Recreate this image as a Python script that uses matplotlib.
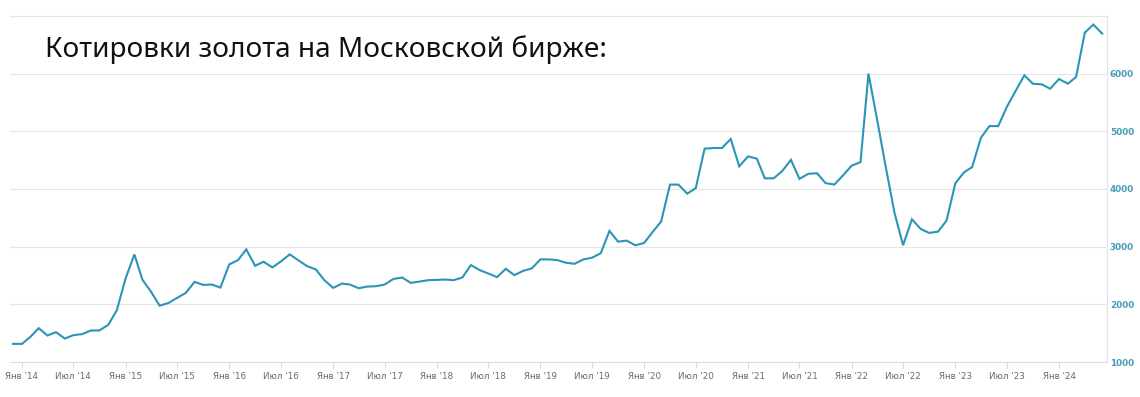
import matplotlib
matplotlib.use("Agg")
import matplotlib.pyplot as plt
import pandas as pd

# ---- data (monthly quotes, Dec 2013 .. Jun 2024) ----
start_month = "2013-12-01"
v2013 = [1314]
v2014 = [1314, 1442, 1587, 1459, 1517, 1407, 1465, 1483, 1547, 1547, 1645, 1895]
v2015 = [2448, 2866, 2430, 2215, 1977, 2023, 2110, 2198, 2390, 2337, 2343, 2291]
v2016 = [2692, 2767, 2953, 2669, 2738, 2640, 2744, 2866, 2762, 2663, 2605, 2419]
v2017 = [2285, 2360, 2343, 2279, 2308, 2314, 2343, 2440, 2465, 2372, 2395, 2419]
v2018 = [2424, 2430, 2419, 2465, 2680, 2593, 2535, 2471, 2616, 2506, 2581, 2622]
v2019 = [2779, 2779, 2767, 2721, 2703, 2779, 2808, 2884, 3273, 3087, 3105, 3023]
v2020 = [3064, 3262, 3436, 4076, 4076, 3919, 4017, 4699, 4711, 4711, 4867, 4393]
v2021 = [4566, 4526, 4185, 4185, 4309, 4506, 4176, 4263, 4274, 4101, 4078, 4234]
v2022 = [4405, 4466, 6000, 5190, 4380, 3580, 3025, 3475, 3307, 3238, 3261, 3452]
v2023 = [4101, 4292, 4379, 4888, 5091, 5091, 5421, 5699, 5971, 5826, 5815, 5739]
v2024 = [5907, 5826, 5942, 6712, 6851, 6695]

tick_dates = ["2014-01-01", "2014-07-01", "2015-01-01", "2015-07-01", "2016-01-01",
              "2016-07-01", "2017-01-01", "2017-07-01", "2018-01-01", "2018-07-01",
              "2019-01-01", "2019-07-01", "2020-01-01", "2020-07-01", "2021-01-01",
              "2021-07-01", "2022-01-01", "2022-07-01", "2023-01-01", "2023-07-01",
              "2024-01-01"]
tick_labels = ["Янв '14", "Июл '14", "Янв '15", "Июл '15", "Янв '16", "Июл '16",
               "Янв '17", "Июл '17", "Янв '18", "Июл '18", "Янв '19", "Июл '19",
               "Янв '20", "Июл '20", "Янв '21", "Июл '21", "Янв '22", "Июл '22",
               "Янв '23", "Июл '23", "Янв '24"]
y_ticks = [1000, 2000, 3000, 4000, 5000, 6000]
title = "Котировки золота на Московской бирже:"

values = v2013 + v2014 + v2015 + v2016 + v2017 + v2018 + v2019 + v2020 + v2021 + v2022 + v2023 + v2024
dates = pd.date_range(start_month, periods=len(values), freq="MS")

W, H = 1140, 397
fig = plt.figure(figsize=(W / 100, H / 100), dpi=100)
fig.patch.set_facecolor("white")

# axes placement in pixels
left_px, right_px, top_px, bottom_px = 10, 1107, 16, 362
ax = fig.add_axes([left_px / W, (H - bottom_px) / H,
                   (right_px - left_px) / W, (bottom_px - top_px) / H])

line_color = "#2b95b8"
ax.plot(dates, values, color=line_color, lw=1.5, solid_joinstyle="miter", zorder=3)

ax.set_ylim(1000, 7000)
ax.set_xlim(pd.Timestamp("2013-11-20"), pd.Timestamp("2024-06-18"))

grid_color = "#e6e6e6"
for yv in y_ticks[1:]:
    ax.axhline(yv, color=grid_color, lw=0.8, zorder=1)

# spines
ax.spines["left"].set_visible(False)
ax.spines["top"].set_color(grid_color)
ax.spines["top"].set_linewidth(0.8)
ax.spines["right"].set_color("#dde4ee")
ax.spines["right"].set_linewidth(0.8)
ax.spines["bottom"].set_color("#d4dce8")
ax.spines["bottom"].set_linewidth(0.8)

ax.set_xticks(pd.to_datetime(tick_dates))
ax.set_xticklabels(tick_labels)
ax.tick_params(axis="x", length=4.5, width=0.8, color="#d4dce8",
               labelsize=6.3, labelcolor="#6a6a6a", pad=2.5)

ax.yaxis.tick_right()
ax.set_yticks(y_ticks)
ax.set_yticklabels([str(v) for v in y_ticks])
ax.tick_params(axis="y", length=0, pad=2, labelsize=6.4, labelcolor="#4a9cbb")
for lab in ax.get_yticklabels():
    lab.set_fontweight("bold")

# title
t = fig.text(45 / W, (H - 57) / H, title, fontsize=22, family=["Noto Sans", "DejaVu Sans"],
             fontweight="medium", color="#111111", ha="left", va="baseline")
fig.canvas.draw()
bb = t.get_window_extent()
target_w = 607 - 45
t.set_fontsize(22 * target_w / bb.width)

fig.savefig("out.png", dpi=100, facecolor="white")
